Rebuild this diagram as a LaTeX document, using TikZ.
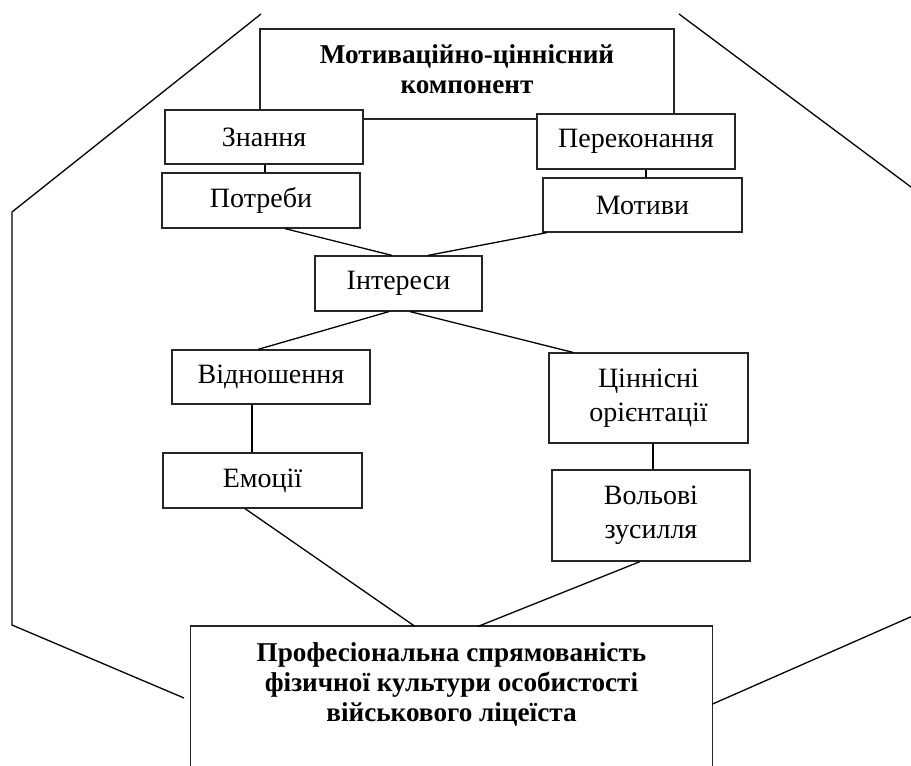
\documentclass[tikz,border=0pt]{standalone}
\usepackage{fontspec}
\setmainfont{Liberation Serif}
\begin{document}
\begin{tikzpicture}[x=0.5pt,y=-0.5pt,
  box/.style={draw=black!85, line width=0.6pt, fill=white, inner sep=0pt, align=center,
    font=\fontsize{14}{17}\selectfont},
  bbox/.style={box, font=\bfseries\fontsize{13.6}{15}\selectfont},
  conn/.style={draw=black, line width=0.65pt}]
\useasboundingbox (0,0) rectangle (911,766);
\clip (0,0) rectangle (911,766);
% outer frame lines
\coordinate (ltop) at (261,14);
\coordinate (lmid1) at (12,212);
\coordinate (lmid2) at (12,625);
\coordinate (lbot) at (184,698);
\coordinate (rtop) at (679,14);
\coordinate (rmid1) at (915,190);
\coordinate (rmid2) at (915,615);
\draw[conn] (ltop) -- (lmid1) -- (lmid2) -- (lbot);
\draw[conn] (rtop) -- (rmid1);
% top component box
\node[bbox, minimum width=207pt, minimum height=45pt, text depth=5pt] (top) at (467,74)
  {Мотиваційно-ціннісний\\компонент};
% boxes
\node[box, minimum width=99pt, minimum height=27pt] (znan) at (264,137) {Знання};
\node[box, minimum width=99pt, minimum height=27.5pt] (perek) at (636,141.5) {Переконання};
\node[box, minimum width=99pt, minimum height=27.5pt] (potr) at (261,200.5) {Потреби};
\node[box, minimum width=99.5pt, minimum height=27pt] (motyv) at (642.5,205) {Мотиви};
\node[box, minimum width=83.5pt, minimum height=27.5pt] (inter) at (398.5,283.5) {Інтереси};
\node[box, minimum width=99pt, minimum height=27pt] (vidn) at (271,377) {Відношення};
\node[box, minimum width=99.5pt, minimum height=27.5pt] (emoc) at (262.5,480.5) {Емоції};
\node[box, minimum width=99.5pt, minimum height=45pt] (cinn) at (648.5,398) {Ціннісні\\орієнтації};
\node[box, minimum width=99pt, minimum height=45.5pt] (volov) at (651,515.5) {Вольові\\зусилля};
% bottom box (open at the bottom)
\node[bbox, draw=none, fill=none, minimum width=260.5pt, minimum height=57pt] (prof) at (451.5,684)
  {Професіональна спрямованість\\фізичної культури особистості\\військового ліцеїста};
\draw[draw=black!85, line width=0.6pt] (prof.south west) ++(0,60) -- (prof.north west |- 0,626)
  -- (prof.north east |- 0,626) -- ++(0,160);
\draw[conn] (rmid2) -- (prof.east |- 0,704);
% connectors
\draw[conn] (znan.south -| 265,0) -- (potr.north -| 265,0);
\draw[conn] (perek.south -| 646,0) -- (motyv.north -| 646,0);
\draw[conn] (potr.south -| 285,0) -- (inter.north -| 392,0);
\draw[conn] (motyv.south -| 547,0) -- (inter.north -| 428,0);
\draw[conn] (inter.south -| 389,0) -- (vidn.north -| 258,0);
\draw[conn] (inter.south -| 410,0) -- (cinn.north -| 573,0);
\draw[conn] (vidn.south -| 252,0) -- (emoc.north -| 252,0);
\draw[conn] (cinn.south -| 653,0) -- (volov.north -| 653,0);
\draw[conn] (emoc.south -| 245,0) -- (prof.north -| 415,0);
\draw[conn] (volov.south -| 640,0) -- (prof.north -| 478,0);
\end{tikzpicture}
\end{document}
